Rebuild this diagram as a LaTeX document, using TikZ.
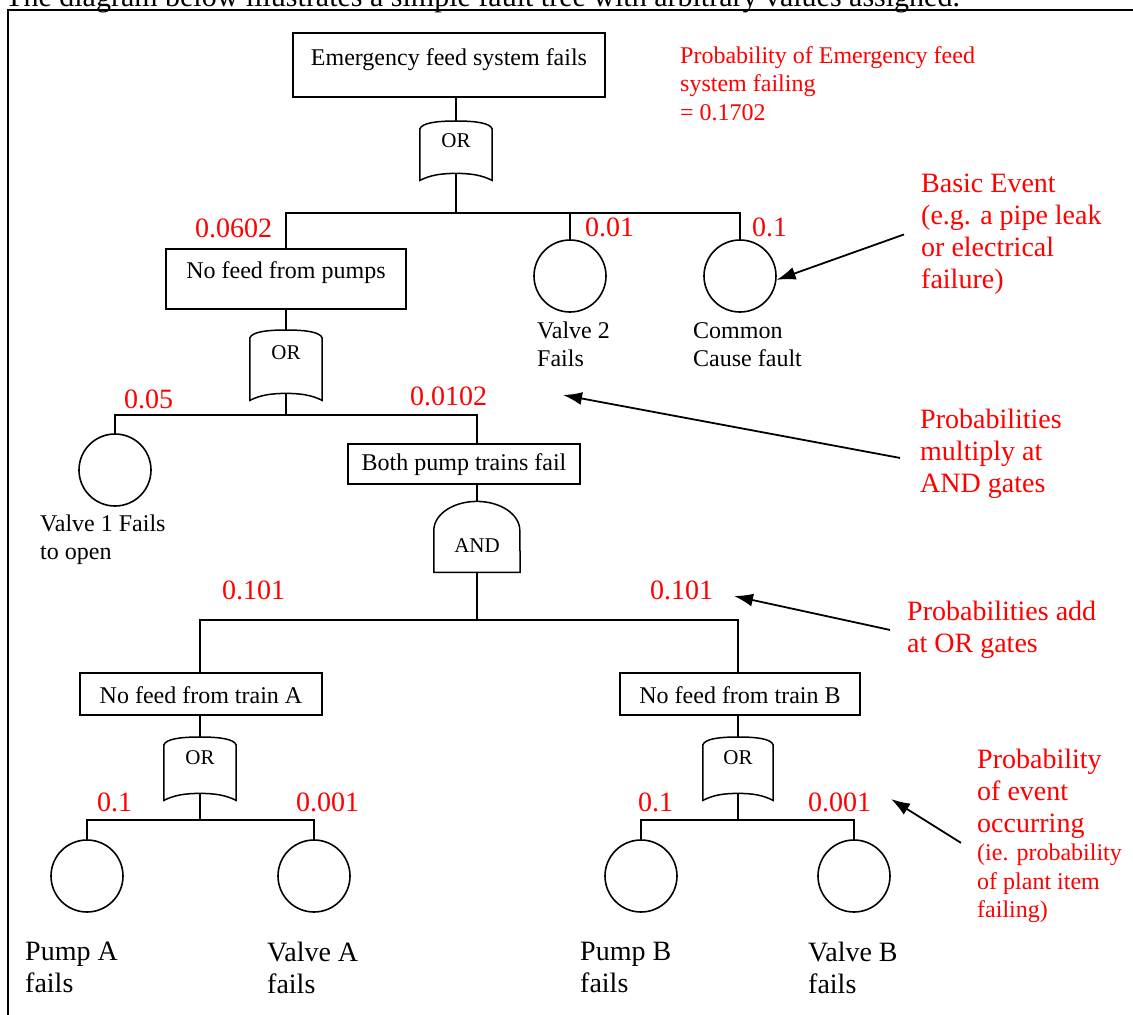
\documentclass[tikz,border=0pt]{standalone}
\usepackage{fontspec}
\setmainfont{Liberation Serif}
\usepackage{tikz}
\usetikzlibrary{arrows.meta,calc}
\definecolor{annot}{HTML}{FF0000}
\newcommand\sztitle{\fontsize{30}{34}\selectfont}
\newcommand\szbox{\fontsize{24}{28}\selectfont}
\newcommand\sznote{\fontsize{24}{28.5}\selectfont}
\newcommand\szbig{\fontsize{28}{32}\selectfont}
\newcommand\szgate{\fontsize{21}{24}\selectfont}
\tikzset{
  event/.style={draw,line width=1.5pt,inner xsep=0pt,inner ysep=0pt,font=\szbox,anchor=north},
  basic/.style={circle,draw,line width=1.6pt,minimum size=72pt,inner sep=0pt},
  gate/.style={inner sep=0pt,font=\szgate,anchor=north},
  outline/.style={line width=1.5pt},
  wire/.style={line width=1.8pt},
  prob/.style={annot,font=\szbig,inner sep=0pt,anchor=base west},
  lbl/.style={font=\szbox,align=left,inner sep=0pt,anchor=north west},
  note/.style={annot,font=\szbig,align=left,inner sep=0pt,anchor=north west},
  pointer/.style={line width=1.8pt,-{Latex[length=19pt,width=13pt]}}
}
\newcommand{\orgate}[1]{%
  \draw[outline] ($(#1.north west)+(0,-8)$)
    .. controls ($(#1.north west)+(2,-2)$) and ($(#1.north)+(-20,0)$) .. (#1.north)
    .. controls ($(#1.north)+(20,0)$) and ($(#1.north east)+(-2,-2)$) .. ($(#1.north east)+(0,-8)$)
    -- ($(#1.south east)+(0,-7)$)
    .. controls ($(#1.south east)+(-10,-2)$) and ($(#1.south)+(16,0)$) .. (#1.south)
    .. controls ($(#1.south)+(-16,0)$) and ($(#1.south west)+(10,-2)$) .. ($(#1.south west)+(0,-7)$)
    -- cycle;}
\newcommand{\andgate}[1]{%
  \draw[outline] (#1.south west) -- ($(#1.south west)+(0,42)$)
    arc[start angle=180,end angle=0,x radius=43,y radius=29] -- (#1.south east) -- cycle;}

\begin{document}
\begin{tikzpicture}[x=1pt,y=1pt]
\useasboundingbox (0,0) rectangle (1133,-1015);
\node[font=\sztitle,inner sep=0pt,anchor=base west] (caption) at (5,-6)
  {The diagram below illustrates a simple fault tree with arbitrary values assigned.};
\draw[line width=1.5pt] (8,-10) rectangle (1150,-1040);

\node[event,minimum width=312pt,text height=33pt,text depth=31pt] (top) at (449,-32) {Emergency feed system fails};
\node[gate,minimum width=72pt,text height=26pt,text depth=26pt] (g1) at (456,-121) {OR};
\orgate{g1}
\coordinate (j1) at (456,-213);

\node[event,minimum width=240pt,text height=30pt,text depth=30pt] (pumps) at (286,-248) {No feed from pumps};
\node[basic] (valve2) at (570,-276) {};
\node[basic] (common) at (740,-276) {};
\node[gate,minimum width=72pt,text height=29pt,text depth=34pt] (g2) at (286,-330) {OR};
\orgate{g2}
\coordinate (j2) at (286,-415);

\node[basic] (valve1) at (115,-470) {};
\node[event,minimum width=232pt,text height=27pt,text depth=13pt] (trains) at (464,-443) {Both pump trains fail};
\node[gate,minimum width=86pt,text height=51pt,text depth=20pt] (and) at (477,-501) {AND};
\andgate{and}
\coordinate (j3) at (477,-620);

\node[event,minimum width=242pt,text height=31pt,text depth=11pt] (trainA) at (201,-672) {No feed from train A};
\node[event,minimum width=240pt,text height=31pt,text depth=11pt] (trainB) at (740,-672) {No feed from train B};
\node[gate,minimum width=72pt,text height=27pt,text depth=29pt] (gA) at (200,-737) {OR};
\node[gate,minimum width=70pt,text height=27pt,text depth=29pt] (gB) at (738,-737) {OR};
\orgate{gA}
\orgate{gB}
\coordinate (jA) at (200,-820);
\coordinate (jB) at (738,-820);

\node[basic] (pumpA) at (87,-876) {};
\node[basic] (valveA) at (314,-876) {};
\node[basic] (pumpB) at (641,-876) {};
\node[basic] (valveB) at (854,-876) {};

\draw[wire] (top.south -| g1.north) -- (g1.north);
\draw[wire] (g1.south) -- (j1);
\draw[wire] (pumps.north) |- (j1) -| (common.north);
\draw[wire] (valve2.north) -- (valve2.north |- j1);
\draw[wire] (pumps.south) -- (g2.north);
\draw[wire] (g2.south) -- (j2);
\draw[wire] (valve1.north) |- (j2) -| (trains.north -| and.north);
\draw[wire] (trains.south -| and.north) -- (and.north);
\draw[wire] (and.south) -- (j3);
\draw[wire] (trainA.north -| gA.north) |- (j3) -| (trainB.north -| gB.north);
\draw[wire] (trainA.south -| gA.north) -- (gA.north);
\draw[wire] (trainB.south -| gB.north) -- (gB.north);
\draw[wire] (gA.south) -- (jA);
\draw[wire] (gB.south) -- (jB);
\draw[wire] (pumpA.north) |- (jA) -| (valveA.north);
\draw[wire] (pumpB.north) |- (jB) -| (valveB.north);

\foreach \nm/\x/\y/\v in {pumps/195/237/0.0602,valve2/585/236/0.01,common/752/236/0.1,
    valve1/124/408/0.05,trains/410/405/0.0102,trainA/222/599/0.101,trainB/650/599/0.101,
    pumpA/97/811/0.1,valveA/296/811/0.001,pumpB/638/811/0.1,valveB/808/811/0.001}
  \node[prob] (p\nm) at (\x,-\y) {\v};

\node[lbl] (valve2lbl) at (537,-322) {Valve 2\\Fails};
\node[lbl] (commonlbl) at (693,-322) {Common\\Cause fault};
\node[lbl] (valve1lbl) at (40,-515) {Valve 1 Fails\\to open};
\node[lbl,font=\szbig] (pumpAlbl) at (25,-942) {Pump A\\fails};
\node[lbl,font=\szbig] (valveAlbl) at (267,-942) {Valve A\\fails};
\node[lbl,font=\szbig] (pumpBlbl) at (580,-942) {Pump B\\fails};
\node[lbl,font=\szbig] (valveBlbl) at (808,-942) {Valve B\\fails};

\node[note,font=\sznote] (sysnote) at (680,-46) {Probability of Emergency feed\\system failing\\= 0.1702};
\node[note] (basicnote) at (921,-174) {Basic Event\\(e.g. a pipe leak\\or electrical\\failure)};
\node[note] (andnote) at (920,-409) {Probabilities\\multiply at\\AND gates};
\node[note] (ornote) at (907,-601) {Probabilities add\\at OR gates};
\node[note] (occnote) at (977,-749) {Probability\\of event\\occurring};
\node[note,font=\sznote] (occsub) at (977,-844) {(ie. probability\\of plant item\\failing)};

\coordinate (t1) at (563,-395);
\coordinate (t2) at (734,-596);
\coordinate (t3) at (891,-799);
\draw[pointer] ([xshift=-17pt]basicnote.west) -- (common.-6);
\draw[pointer] ([xshift=-20pt,yshift=-4pt]andnote.west) -- (t1);
\draw[pointer] ([xshift=-17pt]ornote.west) -- (t2);
\draw[pointer] ([xshift=-16pt,yshift=-4pt]occnote.south west) -- (t3);
\end{tikzpicture}
\end{document}
